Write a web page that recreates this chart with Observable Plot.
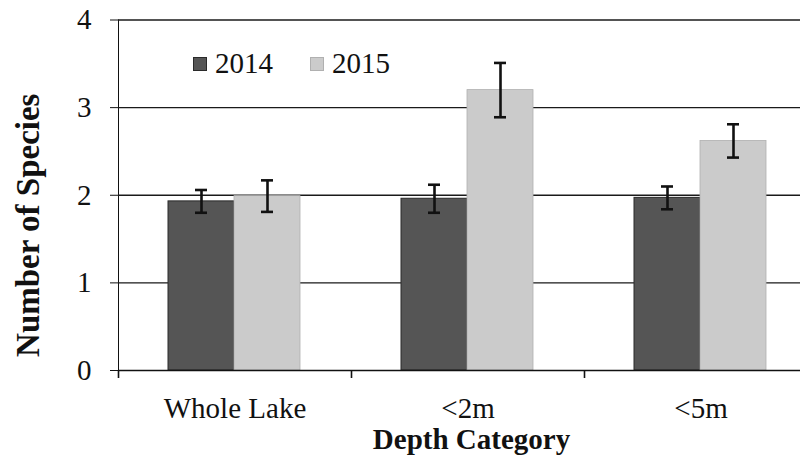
<!DOCTYPE html>
<html>
<head>
<meta charset="utf-8">
<script src="https://cdn.jsdelivr.net/npm/d3@7"></script>
<script src="https://cdn.jsdelivr.net/npm/@observablehq/plot@0.6"></script>
<style>
  html, body { margin: 0; padding: 0; background: #fff; }
  #wrap { position: relative; width: 806px; height: 466px; overflow: hidden; }
  #legend { position: absolute; left: 193px; top: 47px; display: flex; align-items: center;
            font-family: "Liberation Serif", "Times New Roman", serif; font-size: 29px; color: #111; }
  #legend .item { display: flex; align-items: center; margin-right: 37px; }
  #legend .sw { width: 14px; height: 14px; margin-right: 8px; box-sizing: border-box; }
</style>
</head>
<body>
<div id="wrap"><div id="chart"></div><div id="legend"></div></div>
<script>
const categories = ["Whole Lake", "<2m", "<5m"];
const years = ["2014", "2015"];
const mean2014 = [1.93, 1.96, 1.97];
const mean2015 = [1.99, 3.20, 2.62];
const err2014 = [0.13, 0.16, 0.13];
const err2015 = [0.18, 0.31, 0.19];
const yTicks = [0, 1, 2, 3, 4];
const colors = ["#555555", "#cbcbcb"];

const rows2014 = categories.map((c, i) => ({cat: c, year: years[0], v: mean2014[i], lo: mean2014[i] - err2014[i], hi: mean2014[i] + err2014[i]}));
const rows2015 = categories.map((c, i) => ({cat: c, year: years[1], v: mean2015[i], lo: mean2015[i] - err2015[i], hi: mean2015[i] + err2015[i]}));

const serif = '"Liberation Serif", "Times New Roman", serif';

const chart = Plot.plot({
  width: 806,
  height: 466,
  marginLeft: 118,
  marginRight: 6,
  marginTop: 19.5,
  marginBottom: 96,
  style: {fontFamily: serif, fontSize: "29px", color: "#111", background: "#fff"},
  x: {domain: categories, range: [118, 817], padding: 0, label: null, tickSize: 0, tickPadding: 27},
  y: {domain: [0, 4], ticks: yTicks, tickSize: 8, tickPadding: 19, label: null, line: true, tickFormat: d => String(d)},
  marks: [
    Plot.ruleY(yTicks.filter(d => d > 0), {y: d => d, stroke: "#1a1a1a", strokeWidth: 1.3}),
    Plot.barY(rows2014, {x: "cat", y: "v", fill: colors[0], stroke: "#2a2a2a", strokeWidth: 1, insetLeft: 50, insetRight: 117}),
    Plot.barY(rows2015, {x: "cat", y: "v", fill: colors[1], stroke: "#b0b0b0", strokeWidth: 0.8, insetLeft: 116, insetRight: 51}),
    Plot.ruleY([0], {stroke: "#111", strokeWidth: 1.6}),
    Plot.ruleX(categories, {x: d => d, y1: 0, y2: 0, dx: -116.5, insetBottom: -8, stroke: "#111", strokeWidth: 1.6}),
    Plot.ruleX(rows2014, {x: "cat", y1: "lo", y2: "hi", dx: -33.5, stroke: "#111", strokeWidth: 2.6}),
    Plot.ruleX(rows2015, {x: "cat", y1: "lo", y2: "hi", dx: 32.5, stroke: "#111", strokeWidth: 2.6}),
    Plot.tickY(rows2014, {x: "cat", y: "hi", insetLeft: 77, insetRight: 144, stroke: "#111", strokeWidth: 2.6}),
    Plot.tickY(rows2014, {x: "cat", y: "lo", insetLeft: 77, insetRight: 144, stroke: "#111", strokeWidth: 2.6}),
    Plot.tickY(rows2015, {x: "cat", y: "hi", insetLeft: 143, insetRight: 78, stroke: "#111", strokeWidth: 2.6}),
    Plot.tickY(rows2015, {x: "cat", y: "lo", insetLeft: 143, insetRight: 78, stroke: "#111", strokeWidth: 2.6}),
    Plot.text(["Depth Category"], {frameAnchor: "bottom", lineAnchor: "bottom", dx: 12, dy: 78, fontWeight: "bold", fontSize: 29, fill: "#111"}),
    Plot.text(["Number of Species"], {frameAnchor: "left", textAnchor: "middle", lineAnchor: "middle", rotate: -90, dx: -90, dy: 30, fontWeight: "bold", fontSize: 33, fill: "#111"})
  ]
});
document.getElementById("chart").appendChild(chart);

const legend = document.getElementById("legend");
years.forEach((y, i) => {
  const item = document.createElement("div");
  item.className = "item";
  const sw = document.createElement("div");
  sw.className = "sw";
  sw.style.background = colors[i];
  sw.style.border = "1px solid " + (i === 0 ? "#2a2a2a" : "#b0b0b0");
  const t = document.createElement("span");
  t.textContent = y;
  item.appendChild(sw);
  item.appendChild(t);
  legend.appendChild(item);
});
</script>
</body>
</html>
